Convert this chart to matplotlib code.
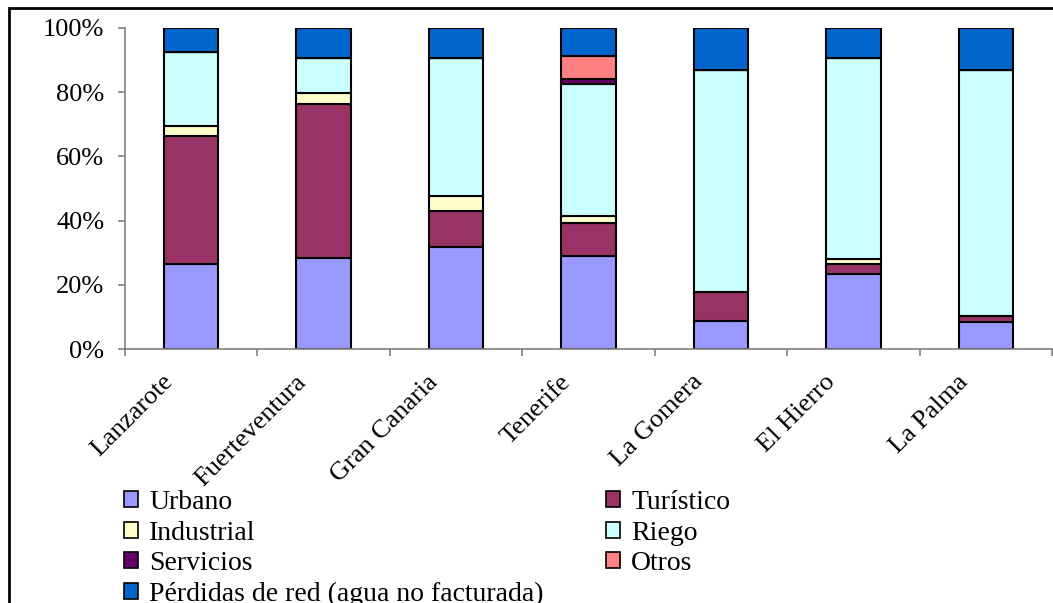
import numpy as np
import matplotlib
matplotlib.use('Agg')
import matplotlib.pyplot as plt
from matplotlib.patches import Patch, Rectangle
from matplotlib.ticker import PercentFormatter
import matplotlib.transforms as mtransforms

# Islas
islas = ['Lanzarote', 'Fuerteventura', 'Gran Canaria', 'Tenerife',
         'La Gomera', 'El Hierro', 'La Palma']

# Porcentajes por uso
urbano     = [26.5, 28.4, 31.8, 29.1,  8.7, 23.4,  8.3]
turistico  = [39.9, 47.8, 11.2, 10.0,  9.2,  3.0,  1.9]
industrial = [ 3.1,  3.4,  4.7,  2.4,  0.0,  1.7,  0.0]
riego      = [23.0, 11.1, 43.0, 40.9, 69.0, 62.6, 76.7]
servicios  = [ 0.0,  0.0,  0.0,  1.7,  0.0,  0.0,  0.0]
otros      = [ 0.0,  0.0,  0.0,  7.3,  0.0,  0.0,  0.0]
perdidas   = [ 7.5,  9.3,  9.3,  8.6, 13.1,  9.3, 13.1]

nombres = ['Urbano', 'Turístico', 'Industrial', 'Riego', 'Servicios', 'Otros',
           'Pérdidas de red (agua no facturada)']
colores = ['#9999FF', '#993366', '#FFFFCC', '#CCFFFF', '#660066', '#FF8080', '#0066CC']
series = [urbano, turistico, industrial, riego, servicios, otros, perdidas]

plt.rcParams['font.family'] = ['Liberation Serif', 'DejaVu Serif']

fig = plt.figure(figsize=(10.53, 6.03), dpi=100)
ax = fig.add_axes([125/1053, 1 - 349/603, (1052-125)/1053, (349-28)/603])

x = np.arange(len(islas))
base = np.zeros(len(islas))
for vals, nombre, color in zip(series, nombres, colores):
    v = np.array(vals)
    ax.bar(x, v, 0.41, bottom=base, color=color, edgecolor='black', linewidth=1.5, label=nombre)
    base = base + v

ax.set_xlim(-0.5, len(islas) - 0.5)
ax.set_ylim(0, 100)
ax.set_yticks([0, 20, 40, 60, 80, 100])
ax.yaxis.set_major_formatter(PercentFormatter(decimals=0))

for s in ['top', 'right']:
    ax.spines[s].set_visible(False)
for s in ['left', 'bottom']:
    ax.spines[s].set_color('#808080')
    ax.spines[s].set_linewidth(1.2)

ax.tick_params(axis='y', direction='out', length=5, width=1.2, color='#808080', labelsize=19, pad=10)
ax.set_xticks(x)
ax.set_xticks(np.arange(-0.5, len(islas), 1.0), minor=True)
ax.tick_params(axis='x', which='major', length=0, labelsize=19)
ax.tick_params(axis='x', which='minor', direction='out', length=5, width=1.2, color='#808080')
ax.set_xticklabels(islas, rotation=45, ha='right', va='baseline', rotation_mode='anchor')
desplaz = mtransforms.ScaledTranslation(-17/100, -29/100, fig.dpi_scale_trans)
for lbl in ax.get_xticklabels():
    lbl.set_transform(lbl.get_transform() + desplaz)

# Leyenda en dos bloques
h = [Patch(facecolor=c, edgecolor='black', linewidth=1.2) for c in colores]
orden1 = [0, 2, 4, 6]
orden2 = [1, 3, 5]
kw = dict(frameon=False, fontsize=20, handlelength=0.5, handleheight=0.5,
          handletextpad=0.4, labelspacing=0.2, borderpad=0, borderaxespad=0,
          loc='upper left')
leg1 = fig.legend([h[i] for i in orden1], [nombres[i] for i in orden1],
                  bbox_to_anchor=(124/1053, 1 - 490/603), bbox_transform=fig.transFigure, **kw)
leg2 = fig.legend([h[i] for i in orden2], [nombres[i] for i in orden2],
                  bbox_to_anchor=(606/1053, 1 - 490/603), bbox_transform=fig.transFigure, **kw)

# Marco exterior
fig.patches.append(Rectangle((9/1053, -0.1), 1.2, 1 - 8/603 + 0.1, transform=fig.transFigure,
                             fill=False, edgecolor='black', linewidth=2))

fig.savefig('out.png', dpi=100)
